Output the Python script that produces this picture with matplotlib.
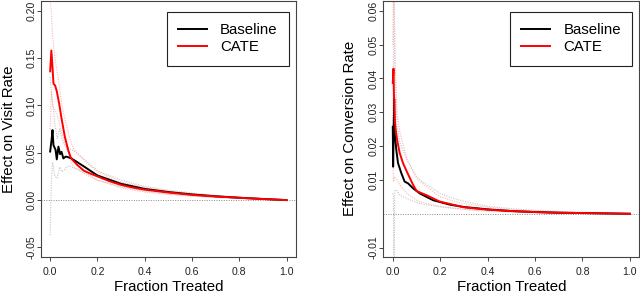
import matplotlib
matplotlib.use("Agg")
import matplotlib.pyplot as plt

plt.rcParams['font.family'] = ['Liberation Sans', 'DejaVu Sans']

# ---------------- Left panel: Effect on Visit Rate ----------------
visit_x_cate = [0, 0.005, 0.01, 0.014, 0.021, 0.028, 0.038, 0.049, 0.062, 0.076, 0.087,
                0.1, 0.115, 0.143, 0.17, 0.2, 0.25, 0.3, 0.354, 0.4, 0.5, 0.6, 0.7, 0.8, 0.9, 1.0]
visit_cate = [0.136, 0.158, 0.140, 0.123, 0.121, 0.115, 0.102, 0.085, 0.067, 0.053, 0.045,
              0.041, 0.037, 0.031, 0.028, 0.025, 0.020, 0.016, 0.013, 0.011, 0.008, 0.0055,
              0.0038, 0.0024, 0.0011, 0.0]
visit_x_base = [0, 0.006, 0.01, 0.014, 0.023, 0.028, 0.035, 0.042, 0.048, 0.056, 0.066,
                0.08, 0.09, 0.115, 0.143, 0.2, 0.3, 0.4, 0.5, 0.6, 0.7, 0.8, 0.9, 1.0]
visit_base = [0.0513, 0.0636, 0.074, 0.058, 0.053, 0.043, 0.0565, 0.0485, 0.051, 0.044, 0.046,
              0.045, 0.044, 0.040, 0.0355, 0.026, 0.0172, 0.0118, 0.0085, 0.006, 0.004,
              0.0025, 0.0012, 0.0]

visit_x_ci = [0, 0.005, 0.01, 0.02, 0.03, 0.04, 0.05, 0.06, 0.07, 0.08, 0.09, 0.1, 0.15,
              0.2, 0.3, 0.4, 0.5, 0.6, 0.7, 0.8, 0.9, 1.0]
visit_base_hi = [0.13, 0.115, 0.105, 0.08, 0.065, 0.075, 0.065, 0.058, 0.056, 0.055, 0.053,
                 0.052, 0.042, 0.031, 0.021, 0.0145, 0.0105, 0.0075, 0.005, 0.003, 0.0014, 0.0]
visit_base_lo = [-0.037, 0.02, 0.04, 0.025, 0.023, 0.035, 0.030, 0.032, 0.035, 0.036, 0.035,
                 0.034, 0.029, 0.021, 0.014, 0.0095, 0.0065, 0.0045, 0.003, 0.002, 0.001, 0.0]
visit_cate_hi = [0.21, 0.2, 0.175, 0.15, 0.135, 0.118, 0.100, 0.088, 0.078, 0.068, 0.060,
                 0.054, 0.040, 0.030, 0.019, 0.0135, 0.0095, 0.0065, 0.0045, 0.003, 0.0014, 0.0]
visit_cate_lo = [0.075, 0.115, 0.100, 0.095, 0.090, 0.080, 0.070, 0.062, 0.054, 0.047, 0.040,
                 0.035, 0.027, 0.021, 0.013, 0.0085, 0.0058, 0.004, 0.0027, 0.0017, 0.0008, 0.0]

# ---------------- Right panel: Effect on Conversion Rate ----------------
conv_x_cate = [0, 0.003, 0.005, 0.008, 0.013, 0.018, 0.022, 0.029, 0.043, 0.057, 0.086,
               0.1, 0.107, 0.142, 0.198, 0.3, 0.4, 0.5, 0.6, 0.7, 0.8, 0.9, 1.0]
conv_cate = [0.0387, 0.0429, 0.035, 0.028, 0.0245, 0.022, 0.0205, 0.018, 0.015, 0.0128,
             0.0085, 0.0068, 0.0065, 0.0055, 0.0036, 0.0019, 0.0012, 0.0008, 0.0005, 0.0003,
             0.0002, 0.0001, 0.0]
conv_x_base = [0, 0.0015, 0.004, 0.006, 0.008, 0.015, 0.022, 0.036, 0.05, 0.064, 0.086,
               0.114, 0.17, 0.24, 0.3, 0.4, 0.5, 0.6, 0.7, 0.8, 0.9, 1.0]
conv_base = [0.0257, 0.0139, 0.026, 0.034, 0.024, 0.0188, 0.015, 0.012, 0.0095, 0.009,
             0.0075, 0.006, 0.004, 0.0027, 0.002, 0.0013, 0.0008, 0.0005, 0.0003, 0.0002,
             0.0001, 0.0]

conv_x_ci = [0, 0.003, 0.005, 0.008, 0.01, 0.018, 0.03, 0.06, 0.1, 0.115, 0.2, 0.256,
             0.3, 0.4, 0.5, 0.6, 0.8, 1.0]
conv_base_hi = [0.026, 0.05, 0.08, 0.045, 0.04, 0.026, 0.021, 0.016, 0.011, 0.010, 0.006,
                0.0045, 0.0037, 0.0022, 0.0015, 0.001, 0.0004, 0.0]
conv_base_lo = [0.006, 0.005, -0.03, 0.0065, 0.007, 0.0068, 0.0055, 0.0045, 0.0033, 0.003,
                0.002, 0.0016, 0.0013, 0.0009, 0.0006, 0.0004, 0.0001, 0.0]
conv_cate_hi = [0.05, 0.07, 0.065, 0.055, 0.045, 0.03, 0.024, 0.016, 0.0105, 0.0095, 0.005,
                0.0038, 0.003, 0.0019, 0.0012, 0.0008, 0.0003, 0.0]
conv_cate_lo = [0.02, 0.0095, 0.010, 0.011, 0.0105, 0.010, 0.0085, 0.006, 0.004, 0.0035,
                0.0022, 0.0017, 0.0013, 0.0008, 0.0005, 0.0003, 0.0001, 0.0]

x_ticks = [0.0, 0.2, 0.4, 0.6, 0.8, 1.0]
x_ticklabels = ["0.0", "0.2", "0.4", "0.6", "0.8", "1.0"]
visit_yticks = [-0.05, 0.0, 0.05, 0.10, 0.15, 0.20]
visit_yticklabels = ["-0.05", "0.00", "0.05", "0.10", "0.15", "0.20"]
conv_yticks = [-0.01, 0.01, 0.02, 0.03, 0.04, 0.05, 0.06]
conv_yticklabels = ["-0.01", "0.01", "0.02", "0.03", "0.04", "0.05", "0.06"]

series_labels = ["Baseline", "CATE"]

fig = plt.figure(figsize=(6.4, 2.93), dpi=100)
W, H = 640, 293
axL = fig.add_axes([40.7 / W, (H - 256.7) / H, (296 - 40.7) / W, (256.7 - 1) / H])
axR = fig.add_axes([383.3 / W, (H - 256.7) / H, (639.3 - 383.3) / W, (256.7 - 1) / H])

GRAY_CI = "#c4c4c4"
PINK_CI = "#ffb4b4"


def draw(ax, xci, bhi, blo, chi, clo, xb, yb, xc, yc, ylim, yticks, ytl, ylabel, ylab_x):
    ax.axhline(0, color="#888888", lw=0.7, ls=(0, (1, 1.5)), zorder=1)
    ax.plot(xci, bhi, color=GRAY_CI, lw=0.8, ls=(0, (1, 1.2)), zorder=2)
    ax.plot(xci, blo, color=GRAY_CI, lw=0.8, ls=(0, (1, 1.2)), zorder=2)
    ax.plot(xci, chi, color=PINK_CI, lw=0.8, ls=(0, (1, 1.2)), zorder=2)
    ax.plot(xci, clo, color=PINK_CI, lw=0.8, ls=(0, (1, 1.2)), zorder=2)
    ax.plot(xb, yb, color="black", lw=1.4, label=series_labels[0], zorder=3)
    ax.plot(xc, yc, color="#ff0000", lw=1.4, label=series_labels[1], zorder=4)
    ax.set_xlim(-0.04, 1.04)
    ax.set_ylim(*ylim)
    ax.set_xticks(x_ticks)
    ax.set_xticklabels(x_ticklabels, fontsize=7.6)
    ax.set_yticks(yticks)
    ax.set_yticklabels(ytl, fontsize=7.6, rotation=90, va="center")
    ax.tick_params(axis="both", direction="out", length=3.2, width=0.7, color="#444444",
                   labelcolor="#222222")
    ax.tick_params(axis="x", pad=4.3)
    ax.tick_params(axis="y", pad=0.0)
    for s in ax.spines.values():
        s.set_color("#444444")
        s.set_linewidth(0.8)
    ax.set_xlabel("Fraction Treated", fontsize=10.8)
    ax.xaxis.set_label_coords(0.5, -0.091)
    ax.set_ylabel(ylabel, fontsize=10.8)
    ax.yaxis.set_label_coords(ylab_x, 0.5)
    leg = ax.legend(loc="upper right", bbox_to_anchor=(0.9727, 0.958), fontsize=10.8,
                    frameon=True, fancybox=False, edgecolor="#222222", framealpha=1,
                    handlelength=1.9, handletextpad=0.9, borderpad=0.75,
                    labelspacing=0.22, borderaxespad=0)
    leg.get_frame().set_linewidth(0.8)


draw(axL, visit_x_ci, visit_base_hi, visit_base_lo, visit_cate_hi, visit_cate_lo,
     visit_x_base, visit_base, visit_x_cate, visit_cate, (-0.0598, 0.2103),
     visit_yticks, visit_yticklabels, "Effect on Visit Rate", -0.098)
draw(axR, conv_x_ci, conv_base_hi, conv_base_lo, conv_cate_hi, conv_cate_lo,
     conv_x_base, conv_base, conv_x_cate, conv_cate, (-0.0127, 0.0629),
     conv_yticks, conv_yticklabels, "Effect on Conversion Rate", -0.1008)

fig.savefig("out.png", dpi=100)
